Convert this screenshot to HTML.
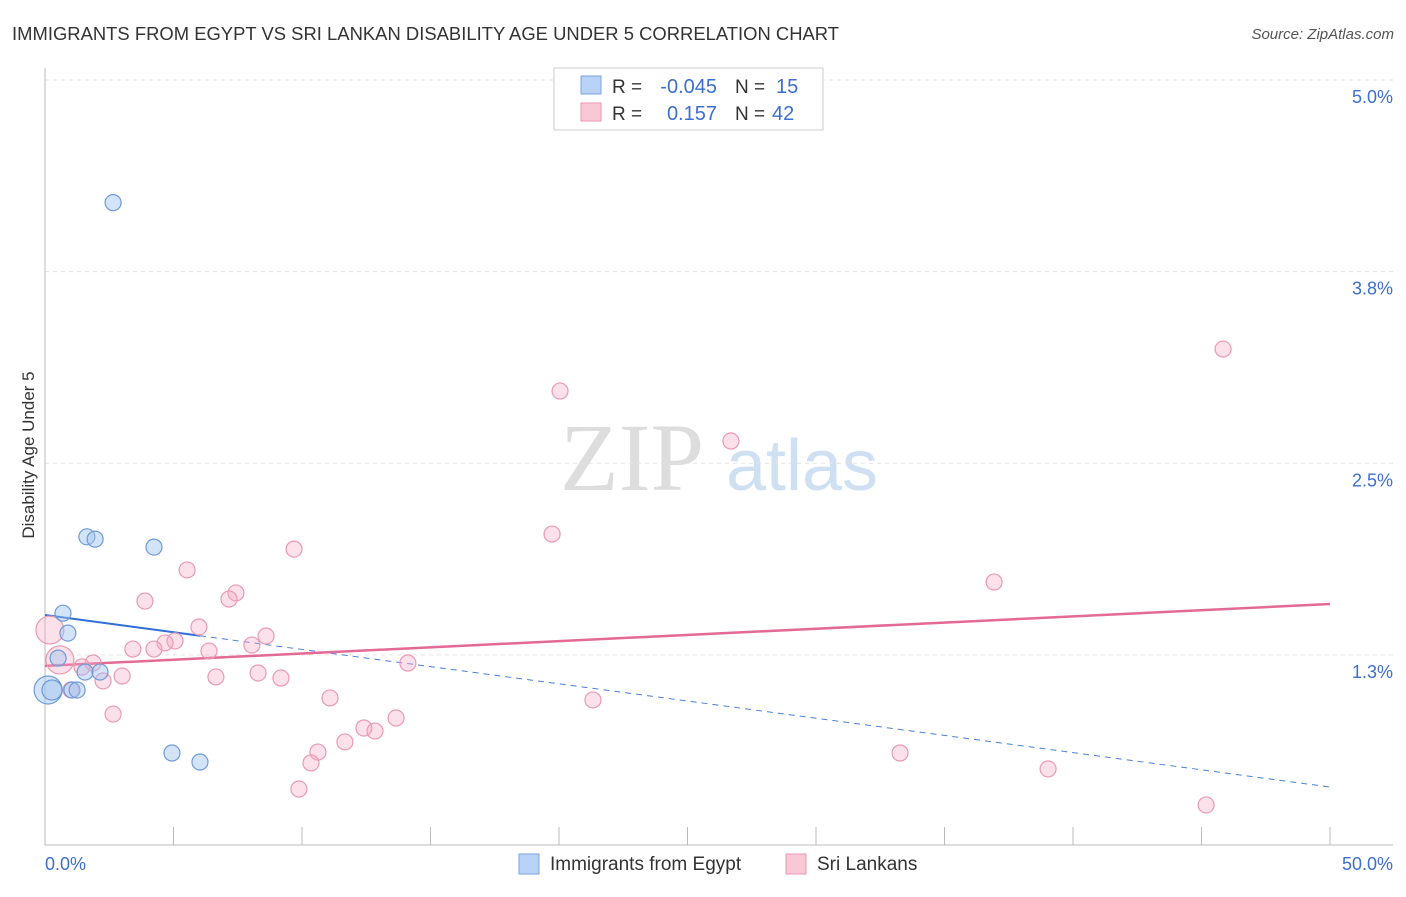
<!DOCTYPE html>
<html><head><meta charset="utf-8">
<style>
body{margin:0;background:#fff;font-family:"Liberation Sans",sans-serif;}
svg text{font-family:"Liberation Sans",sans-serif;}
</style></head>
<body>
<svg id="chart" width="1406" height="892" viewBox="0 0 1406 892">
<text x="12" y="40" font-size="18.4" fill="#333" textLength="827">IMMIGRANTS FROM EGYPT VS SRI LANKAN DISABILITY AGE UNDER 5 CORRELATION CHART</text>
<text x="1394" y="39" font-size="15" fill="#555" text-anchor="end" font-style="italic">Source: ZipAtlas.com</text>
<text x="34" y="455" font-size="17" fill="#333" text-anchor="middle" transform="rotate(-90 34 455)">Disability Age Under 5</text>
<g>
<text x="632" y="490" font-size="96" fill="#ddd" text-anchor="middle" font-family="Liberation Serif" style="font-family:'Liberation Serif',serif">ZIP</text>
<text x="802" y="490" font-size="72" fill="#cfe0f3" text-anchor="middle">atlas</text>
</g>
<g id="grid"></g>
<g id="axes"></g>
<g id="trends"></g>
<g id="points"></g>
<g>
<rect x="554" y="68" width="269" height="62" fill="#fff" stroke="#ccc"/>
<rect x="581" y="76" width="20" height="18" fill="#b8d3f5" stroke="#7aa6e0"/>
<rect x="581" y="103" width="20" height="18" fill="#f9c8d7" stroke="#eb97b2"/>
<text x="612" y="93" font-size="19" fill="#333">R =</text>
<text x="717" y="93" font-size="20" fill="#3b6fd0" text-anchor="end">-0.045</text>
<text x="735" y="93" font-size="19" fill="#333">N =</text>
<text x="776" y="93" font-size="20" fill="#3b6fd0">15</text>
<text x="612" y="120" font-size="19" fill="#333">R =</text>
<text x="717" y="120" font-size="20" fill="#3b6fd0" text-anchor="end">0.157</text>
<text x="735" y="120" font-size="19" fill="#333">N =</text>
<text x="772" y="120" font-size="20" fill="#3b6fd0">42</text>
</g>
<g>
<rect x="519" y="854" width="20" height="20" fill="#b8d3f5" stroke="#7aa6e0"/>
<text x="550" y="870" font-size="19" fill="#333">Immigrants from Egypt</text>
<rect x="786" y="854" width="20" height="20" fill="#f9c8d7" stroke="#eb97b2"/>
<text x="817" y="870" font-size="19" fill="#333">Sri Lankans</text>
</g>
</svg>
<script>
const yTicks=[5.0,3.75,2.5,1.25];
const yTickLabels=["5.0%","3.8%","2.5%","1.3%"];
const xTicks=[0,5,10,15,20,25,30,35,40,45,50];
const blueX=[2.65,1.63,1.95,4.24,0.70,0.89,0.51,1.56,2.14,1.05,1.25,0.12,0.27,4.94,6.03];
const blueY=[4.20,2.02,2.005,1.953,1.522,1.392,1.229,1.138,1.138,1.021,1.021,1.021,1.021,0.61,0.551];
const blueR=[8,8,8,8,8,8,8,8,8,8,8,14,10,8,8];
const pinkX=[45.84,20.04,26.69,19.73,9.69,36.93,5.53,7.43,3.89,7.16,5.99,8.60,5.06,4.67,3.42,4.24,6.38,8.05,14.12,1.87,1.44,3.00,2.26,6.65,8.29,9.18,0.58,0.19,1.01,2.65,11.09,21.32,13.66,12.41,12.84,11.67,10.62,10.35,33.27,39.03,9.88,45.18];
const pinkY=[3.245,2.971,2.645,2.038,1.940,1.725,1.804,1.654,1.601,1.614,1.432,1.373,1.341,1.328,1.288,1.288,1.275,1.314,1.197,1.197,1.171,1.112,1.080,1.106,1.132,1.099,1.217,1.412,1.021,0.864,0.969,0.956,0.838,0.773,0.753,0.682,0.616,0.545,0.610,0.506,0.375,0.271];
const blueTrend=[1.510,0.388];
const blueSolidEnd=6.03;
const pinkTrend=[1.178,1.582];
const NS="http://www.w3.org/2000/svg";
const X0=45,X1=1330,YT=80,YPER=153.3;
function sx(v){return X0+(v/50)*(X1-X0);}
function sy(v){return YT+(5-v)*YPER;}
function mk(tag,attrs,parent){const e=document.createElementNS(NS,tag);for(const k in attrs)e.setAttribute(k,attrs[k]);parent.appendChild(e);return e;}
const grid=document.getElementById('grid'),axes=document.getElementById('axes'),tr=document.getElementById('trends'),pts=document.getElementById('points');
yTicks.forEach((t,i)=>{
 const l=mk('line',{x1:45,x2:1393,y1:sy(t),y2:sy(t),stroke:'#e3e3e3','stroke-dasharray':'4,4'},grid);
 
 
 const tx=mk('text',{x:1393,y:sy(t)+23,'font-size':18,fill:'#3b6fd0','text-anchor':'end'},axes);
 tx.textContent=yTickLabels[i];
 
 
});
const ya=mk('line',{x1:45,x2:45,y1:68,y2:845,stroke:'#bbb'},axes);


const xa=mk('line',{x1:45,x2:1393,y1:845,y2:845,stroke:'#bbb'},axes);


xTicks.forEach(t=>{
 const l=mk('line',{x1:sx(t),x2:sx(t),y1:827,y2:845,stroke:'#bbb'},axes);
 
 
});
const xl0=mk('text',{x:45,y:870,'font-size':18,fill:'#3b6fd0'},axes);xl0.textContent='0.0%';


const xl1=mk('text',{x:1393,y:870,'font-size':18,fill:'#3b6fd0','text-anchor':'end'},axes);xl1.textContent='50.0%';


function ty(a,x){return a[0]+(a[1]-a[0])*x/50;}
const bs=mk('line',{x1:sx(0),y1:sy(ty(blueTrend,0)),x2:sx(blueSolidEnd),y2:sy(ty(blueTrend,blueSolidEnd)),stroke:'#2f6fd6','stroke-width':2},tr);


const bd=mk('line',{x1:sx(blueSolidEnd),y1:sy(ty(blueTrend,blueSolidEnd)),x2:sx(50),y2:sy(ty(blueTrend,50)),stroke:'#4a80d8','stroke-width':1,'stroke-dasharray':'6,5'},tr);


const pl=mk('line',{x1:sx(0),y1:sy(ty(pinkTrend,0)),x2:sx(50),y2:sy(ty(pinkTrend,50)),stroke:'#e46a96','stroke-width':2.5},tr);


pinkX.forEach((x,i)=>{
 const r=(i==26||i==27)?14:8;
 const c=mk('circle',{cx:sx(x),cy:sy(pinkY[i]),r:r,fill:'rgba(245,170,195,0.35)',stroke:'#e99ab5','stroke-width':1.2},pts);
 
 
});
blueX.forEach((x,i)=>{
 const c=mk('circle',{cx:sx(x),cy:sy(blueY[i]),r:blueR[i],fill:'rgba(160,195,240,0.45)',stroke:'#6f9bd8','stroke-width':1.2},pts);
 
 
});
</script>
</body></html>
